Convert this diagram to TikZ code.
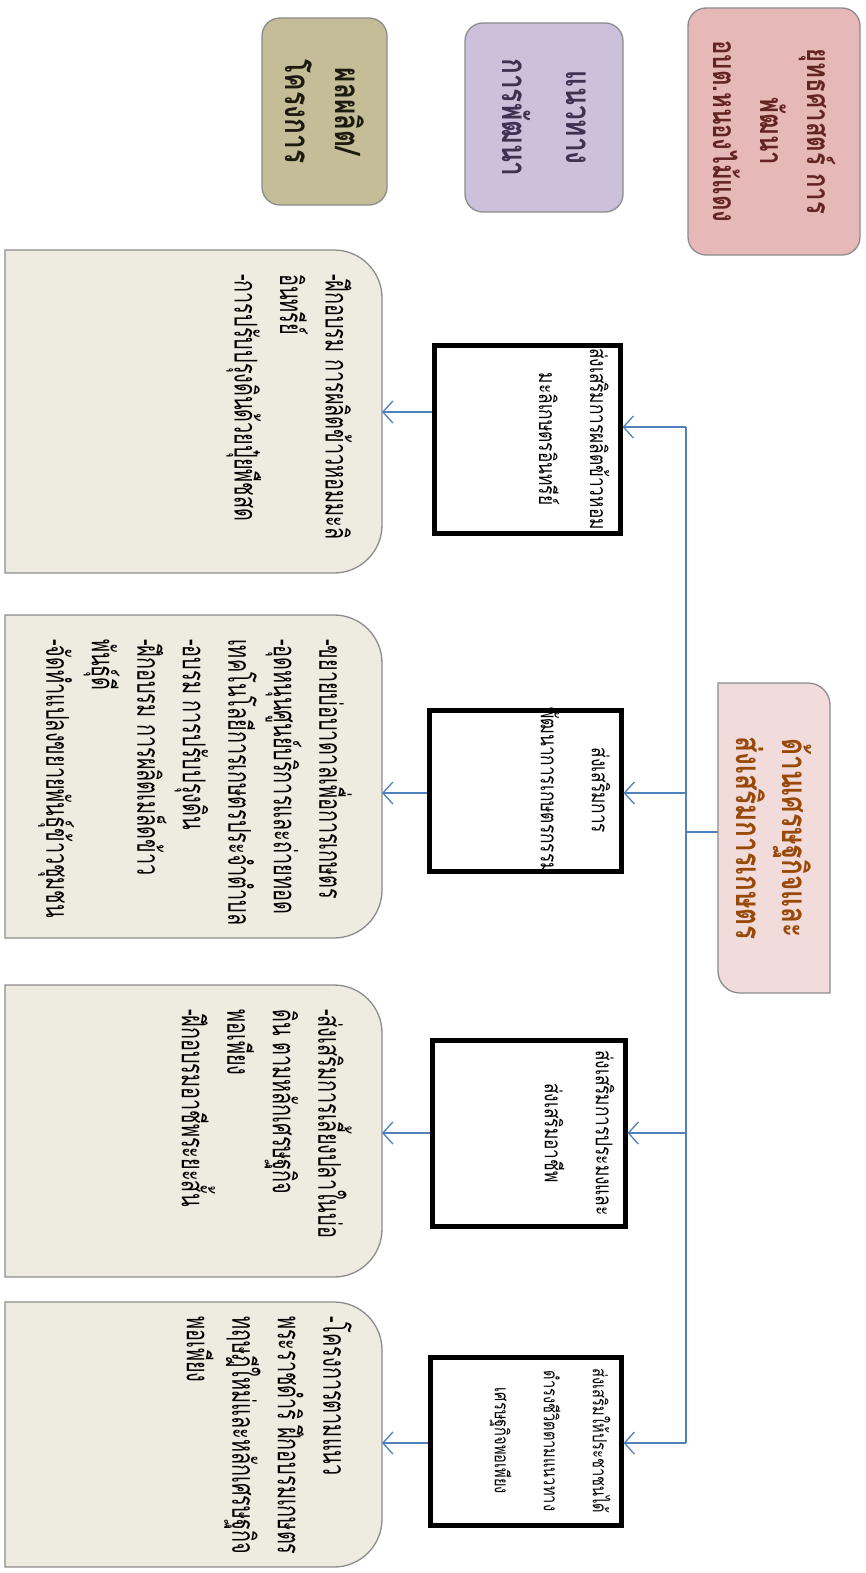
\documentclass[tikz,border=0pt]{standalone}
\usepackage{fontspec}
\newfontfamily\thai[Script=Thai,FakeStretch=0.63]{Loma}
\newfontfamily\thaiL[Script=Thai,FakeStretch=0.75]{Loma}
\usetikzlibrary{arrows.meta}
\definecolor{pinkA}{HTML}{E6B9B8}
\definecolor{pinkAT}{HTML}{632523}
\definecolor{purA}{HTML}{CCC0DA}
\definecolor{purAT}{HTML}{3F3151}
\definecolor{khaA}{HTML}{C4BD97}
\definecolor{khaAT}{HTML}{1D1B10}
\definecolor{pinkM}{HTML}{F2DCDB}
\definecolor{pinkMT}{HTML}{984807}
\definecolor{boxF}{HTML}{EEECE1}
\definecolor{boxB}{HTML}{8C8C8C}
\definecolor{connB}{HTML}{4F81BD}
\tikzset{
  holder/.style={draw=none,fill=none,inner sep=0,outer sep=0},
  labbox/.style={draw=boxB,line width=1.3pt,rounded corners=18pt,inner sep=0,outer sep=0},
  labtext/.style={rotate=-90,align=center,inner sep=0,font=\thaiL\bfseries\fontsize{35}{48}\selectfont},
  blackbox/.style={draw=black,line width=5pt,fill=white,inner sep=0},
  blacktext/.style={rotate=-90,align=center,anchor=north,inner sep=0,font=\thaiL\fontsize{23}{51}\selectfont},
  bigshape/.style={draw=boxB,line width=1.3pt,fill=boxF},
  bigtext/.style={rotate=-90,align=left,anchor=north west,inner sep=0,font=\thai\fontsize{31.5}{45.5}\selectfont},
  conn/.style={draw=connB,line width=1.3pt},
  arr/.style={conn,-{Straight Barb[length=10pt,width=22pt]}}
}
\begin{document}
\begin{tikzpicture}[x=1pt,y=-1pt]
\useasboundingbox[fill=white] (0,0) rectangle (865,1573);

% row labels
\node[labbox,fill=pinkA,minimum width=172pt,minimum height=247pt] (lab1) at (774,131.5) {};
\node[labtext,text=pinkAT,font=\thaiL\bfseries\fontsize{32}{47}\selectfont] (lab1t) at (lab1.center) {ยุทธศาสตร์ การ\\พัฒนา\\อบต.หนองไม้แดง};
\node[labbox,fill=purA,minimum width=158pt,minimum height=189pt] (lab2) at (544,117.5) {};
\node[labtext,text=purAT,font=\thaiL\bfseries\fontsize{35}{64}\selectfont] (lab2t) at (lab2.center) {แนวทาง\\การพัฒนา};
\node[labbox,fill=khaA,minimum width=125pt,minimum height=187pt] (lab3) at (324.5,111.5) {};
\node[labtext,text=khaAT,font=\thaiL\bfseries\fontsize{35}{50}\selectfont] (lab3t) at (lab3.center) {ผลผลิต/\\โครงการ};

% main strategy box
\node[holder,minimum width=112pt,minimum height=310pt] (main) at (774,838) {};
\path[draw=boxB,line width=1.3pt,fill=pinkM] (main.north west) -- ([xshift=-22pt]main.north east)
  arc[start angle=90,end angle=0,radius=22pt] -- (main.south east) -- ([xshift=22pt]main.south west)
  arc[start angle=270,end angle=180,radius=22pt] -- cycle;
\node[labtext,text=pinkMT,font=\thaiL\bfseries\fontsize{35}{46}\selectfont] (maint) at (main.center) {ด้านเศรษฐกิจและ\\ส่งเสริมการเกษตร};

% approach boxes
\node[blackbox,minimum width=186pt,minimum height=188pt] (b1) at (527,439) {};
\node[blacktext] (b1t) at ([xshift=-13pt]b1.east) {ส่งเสริมการผลิตข้าวหอม\\มะลิเกษตรอินทรีย์};
\node[blackbox,minimum width=192pt,minimum height=161pt] (b2) at (525,790.5) {};
\node[blacktext] (b2t) at ([xshift=-13pt]b2.east) {ส่งเสริมการ\\พัฒนาการเกษตรกรรม};
\node[blackbox,minimum width=193pt,minimum height=186pt] (b3) at (528.5,1133) {};
\node[blacktext] (b3t) at ([xshift=-13pt]b3.east) {ส่งเสริมการประมงและ\\ส่งเสริมอาชีพ};
\node[blackbox,minimum width=191pt,minimum height=168pt] (b4) at (525.5,1441) {};
\node[blacktext,font=\thaiL\fontsize{19.5}{49}\selectfont] (b4t) at ([xshift=-13pt]b4.east) {ส่งเสริมให้ประชาชนได้\\ดำรงชีวิตตามแนวทาง\\เศรษฐกิจพอเพียง};

% output boxes
\node[holder,minimum width=377pt,minimum height=323pt,anchor=north west] (ba) at (5,250) {};
\node[holder,minimum width=377pt,minimum height=323pt,anchor=north west] (bb) at (5,615) {};
\node[holder,minimum width=377pt,minimum height=292pt,anchor=north west] (bc) at (5,985) {};
\node[holder,minimum width=377pt,minimum height=265pt,anchor=north west] (bd) at (5,1302) {};
\foreach \n in {ba,bb,bc,bd}{
  \path[bigshape] (\n.north west) -- ([xshift=-48pt]\n.north east)
    arc[start angle=90,end angle=0,radius=48pt] -- ([yshift=48pt]\n.south east)
    arc[start angle=0,end angle=-90,radius=48pt] -- (\n.south west) -- cycle;
}
\node[bigtext] (bat) at ([xshift=-30pt,yshift=-24pt]ba.north east) {-ฝึกอบรม การผลิตข้าวหอมมะลิ\\อินทรีย์\\-การปรับปรุงดินด้วยปุ๋ยพืชสด};
\node[bigtext] (bbt) at ([xshift=-30pt,yshift=-24pt]bb.north east) {-ขยายบ่อบาดาลเพื่อการเกษตร\\-อุดหนุนศูนย์บริการและถ่ายทอด\\เทคโนโลยีการเกษตรประจำตำบล\\-อบรม การปรับปรุงดิน\\-ฝึกอบรม การผลิตเมล็ดข้าว\\พันธุ์ดี\\-จัดทำแปลงขยายพันธุ์ข้าวชุมชน};
\node[bigtext] (bct) at ([xshift=-30pt,yshift=-24pt]bc.north east) {-ส่งเสริมการเลี้ยงปลาในบ่อ\\ดิน ตามหลักเศรษฐกิจ\\พอเพียง\\-ฝึกอบรมอาชีพระยะสั้น};
\node[bigtext] (bdt) at ([xshift=-30pt,yshift=-14pt]bd.north east) {-โครงการตามแนว\\พระราชดำริ ฝึกอบรมเกษตร\\ทฤษฎีใหม่และหลักเศรษฐกิจ\\พอเพียง};

% connectors
\coordinate (v1) at (686,427);
\coordinate (v2) at (686,793);
\coordinate (v3) at (686,1133);
\coordinate (v4) at (686,1443);
\coordinate (vm) at (686,832);
\coordinate (w1) at (0,412);
\coordinate (w2) at (0,793);
\coordinate (w3) at (0,1133);
\coordinate (w4) at (0,1443);
\draw[conn] (v1) -- (v4);
\draw[conn] (vm) -- (main.west |- vm);
\draw[arr] (v1) -- (b1.east |- v1);
\draw[arr] (v2) -- (b2.east |- v2);
\draw[arr] (v3) -- (b3.east |- v3);
\draw[arr] (v4) -- (b4.east |- v4);
\draw[arr] (b1.west |- w1) -- (ba.east |- w1);
\draw[arr] (b2.west |- w2) -- (bb.east |- w2);
\draw[arr] (b3.west |- w3) -- (bc.east |- w3);
\draw[arr] (b4.west |- w4) -- (bd.east |- w4);
\end{tikzpicture}
\end{document}
